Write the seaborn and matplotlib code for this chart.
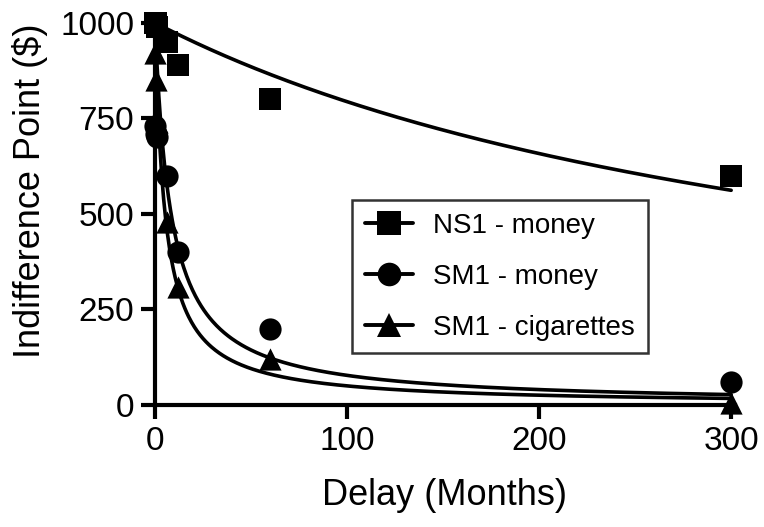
import numpy as np
import pandas as pd
import matplotlib
matplotlib.use("Agg")
import matplotlib.pyplot as plt
from matplotlib.lines import Line2D
import seaborn as sns

# ---- data ----
delays = [0.25, 0.5, 1, 6, 12, 60, 300]          # months
ns1_money = [1000, 1000, 990, 950, 890, 800, 600]
sm1_money = [730, 710, 700, 600, 400, 200, 60]
sm1_cig = [920, 850, 740, 480, 310, 120, 5]

series_names = ["NS1 - money", "SM1 - money", "SM1 - cigarettes"]
series_markers = ["s", "o", "^"]

# hyperbolic fit parameters V = A / (1 + kD)
fit_A = [1000, 1000, 1000]
fit_k = [0.0026, 0.119, 0.19]

x_ticks = [0, 100, 200, 300]
y_ticks = [0, 250, 500, 750, 1000]

sns.set_theme(style="ticks")
plt.rcParams["font.family"] = ["Liberation Sans", "DejaVu Sans"]

fig = plt.figure(figsize=(7.64, 5.27), dpi=100)
ax = fig.add_axes([155 / 764, 1 - 405 / 527, 580 / 764, 386 / 527])

values = [ns1_money, sm1_money, sm1_cig]

# fitted curves
curve_x = np.linspace(0, 300, 601)
for name, A, k in zip(series_names, fit_A, fit_k):
    cdf = pd.DataFrame({"delay": curve_x, "value": A / (1 + k * curve_x)})
    sns.lineplot(data=cdf, x="delay", y="value", ax=ax, color="black",
                 lw=2.6, legend=False, clip_on=False)

# data points
for name, vals, m in zip(series_names, values, series_markers):
    df = pd.DataFrame({"delay": delays, "value": vals})
    sns.scatterplot(data=df, x="delay", y="value", ax=ax, marker=m, s=256,
                    color="black", edgecolor="black", linewidth=0,
                    legend=False, clip_on=False, zorder=5)

ax.set_xlim(0, 302)
ax.set_ylim(0, 1010)
ax.set_xticks(x_ticks)
ax.set_yticks(y_ticks)
ax.tick_params(axis="both", labelsize=24, width=3, length=10, color="black",
               labelcolor="black", pad=5)
for side in ["left", "bottom"]:
    ax.spines[side].set_linewidth(3)
    ax.spines[side].set_color("black")
ax.spines["top"].set_visible(False)
ax.spines["right"].set_visible(False)

ax.set_xlabel("Delay (Months)", fontsize=26, color="black")
ax.set_ylabel("Indifference Point ($)", fontsize=26, color="black")
ax.xaxis.set_label_coords(0.5, -0.19)
ax.yaxis.set_label_coords(-0.185, 0.554)

handles = [Line2D([], [], color="black", lw=2.8, marker=m, ms=17,
                  markeredgewidth=0)
           for m in series_markers]
leg = ax.legend(handles, series_names, loc="upper left",
                bbox_to_anchor=(0.34, 0.531), borderaxespad=0,
                fontsize=20, frameon=True, fancybox=False,
                handlelength=1.75, handletextpad=0.72, labelspacing=0.9,
                borderpad=0.45)
leg.get_frame().set_edgecolor("black")
leg.get_frame().set_linewidth(1.8)
for t in leg.get_texts():
    t.set_color("black")

fig.savefig("out.png", dpi=100)
